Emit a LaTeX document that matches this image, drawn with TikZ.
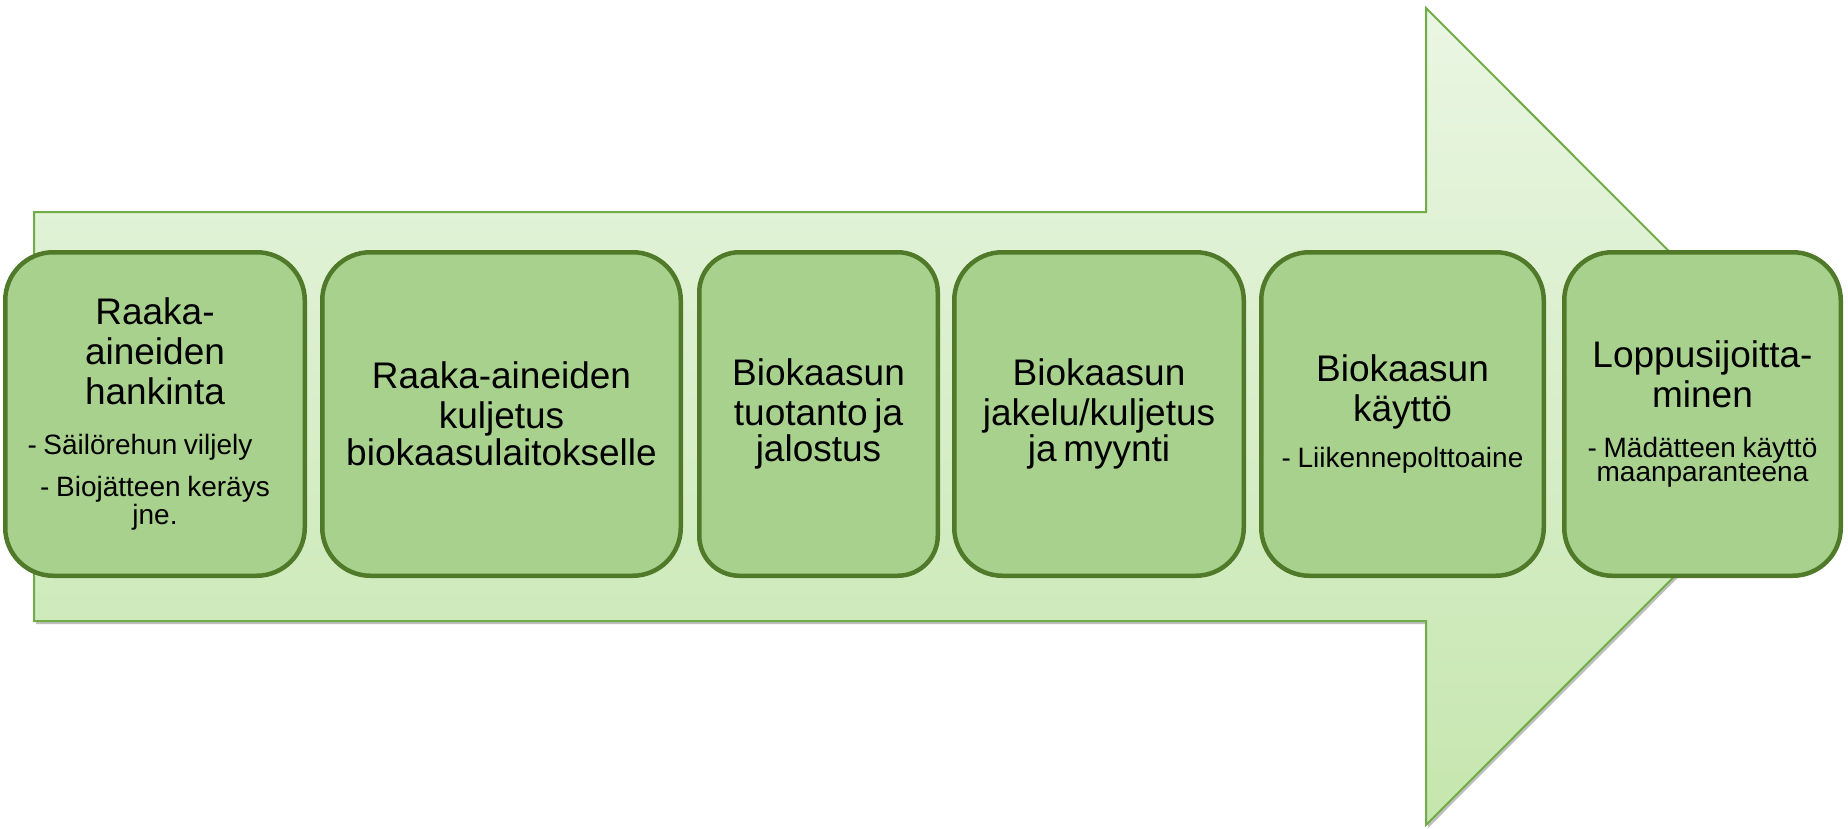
\documentclass[tikz,border=0pt]{standalone}
\usepackage{fontspec}
\setmainfont{Liberation Sans}
\usetikzlibrary{shadows}

\definecolor{boxfill}{HTML}{A9D18E}
\definecolor{boxline}{HTML}{507A2A}
\definecolor{arrowline}{HTML}{70AD47}
\definecolor{arrowtop}{HTML}{EAF6E3}
\definecolor{arrowbottom}{HTML}{C5E6AE}

\newcommand{\bigtxt}{\fontsize{18.5}{20}\selectfont}
\newcommand{\smalltxt}{\fontsize{14}{15}\selectfont}

\tikzset{
  stagebox/.style={draw=boxline, fill=boxfill, line width=2.25pt,
    rounded corners=24pt, minimum height=161.75pt, inner sep=0pt,
    align=center},
  flowarrow/.style={draw=arrowline, line width=1pt, top color=arrowtop,
    bottom color=arrowbottom,
    drop shadow={shadow xshift=1pt, shadow yshift=-1.5pt, opacity=0.25, fill=black}},
}

\begin{document}
\begin{tikzpicture}[x=0.5pt,y=-0.5pt]
  \useasboundingbox (0,0) rectangle (1848,829);
  % big arrow behind the stages
  \draw[flowarrow] (34,212)--(1426,212)--(1426,8)--(1834,416.5)--(1426,825)--(1426,621)--(34,621)--cycle;
  % stages
  \node[stagebox, minimum width=149.75pt, text width=142pt] (hankinta) at (155,414)
    {\bigtxt Raaka-\\aineiden\\hankinta\\[10pt]\smalltxt - Säilörehun viljely\hspace{15pt}\null\\[6pt]- Biojätteen keräys\\jne.};
  \node[stagebox, minimum width=179.25pt, text width=172pt] (kuljetus) at (501.5,414)
    {\bigtxt Raaka-aineiden\\kuljetus\\biokaasulaitokselle};
  \node[stagebox, minimum width=119.25pt, text width=112pt, rounded corners=20pt] (tuotanto) at (818.5,414)
    {\bigtxt Biokaasun\\tuotanto ja\\jalostus};
  \node[stagebox, minimum width=144.75pt, text width=138pt] (jakelu) at (1099,414)
    {\bigtxt Biokaasun\\jakelu/kuljetus\\ja myynti};
  \node[stagebox, minimum width=141.25pt, text width=134pt] (kaytto) at (1402.5,414)
    {\bigtxt Biokaasun\\käyttö\\[8.5pt]\smalltxt - Liikennepolttoaine};
  \node[stagebox, minimum width=138.25pt, text width=132pt] (loppu) at (1702.5,414)
    {\bigtxt Loppusijoitta-\\minen\\[10pt]\smalltxt - Mädätteen käyttö\\maanparanteena};
\end{tikzpicture}
\end{document}
